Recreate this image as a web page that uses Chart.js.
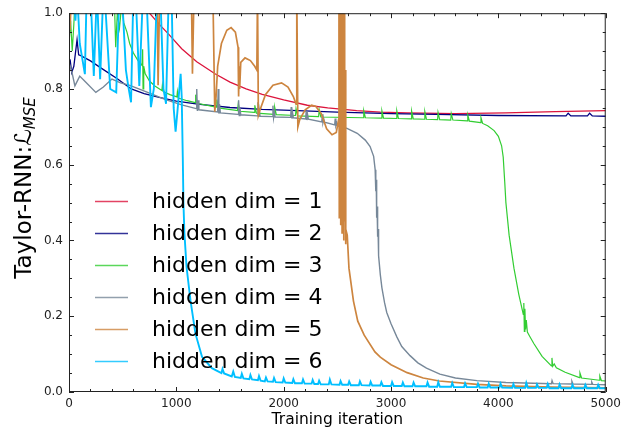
<!DOCTYPE html>
<html>
<head>
<meta charset="utf-8">
<script src="https://cdn.jsdelivr.net/npm/chart.js@4.4.1/dist/chart.umd.min.js"></script>
<style>
  html, body { margin: 0; padding: 0; background: #fff; }
</style>
</head>
<body>
<canvas id="chart" width="626" height="434"></canvas>
<script>
// legend labels and axis text
const seriesLabels = ["hidden dim = 1", "hidden dim = 2", "hidden dim = 3", "hidden dim = 4", "hidden dim = 5", "hidden dim = 6"];
const seriesColors = ["#dc143c", "#000080", "#32cd32", "#778899", "#cd853f", "#00bfff"];
const xTicks = [0, 1000, 2000, 3000, 4000, 5000];
const yTicks = [0.0, 0.2, 0.4, 0.6, 0.8, 1.0];

// [iteration, loss]
const dim1 = [[0,0.97],[30,1.05],[720,1.02],[750,1.0],[850,0.968],[930,0.944],[1050,0.906],[1190,0.872],[1360,0.84],[1500,0.818],[1650,0.80],[1800,0.786],[2000,0.771],[2220,0.757],[2410,0.75],[2680,0.743],[2900,0.739],[3150,0.737],[3600,0.735],[4070,0.737],[4530,0.74],[5000,0.743]];

const dim2 = [[10,0.878],[25,0.843],[45,0.86],[75,0.93],[90,0.89],[110,0.888],[200,0.874],[300,0.855],[450,0.827],[580,0.80],[700,0.788],[840,0.778],[1000,0.768],[1200,0.76],[1500,0.751],[1800,0.746],[2130,0.743],[2500,0.739],[3000,0.735],[3420,0.733],[4000,0.73],[4630,0.729],[4650,0.736],[4675,0.729],[4830,0.729],[4850,0.736],[4875,0.729],[5000,0.728]];

const dim3 = [[0,0.92],[15,0.98],[30,0.9],[45,0.97],[60,1.06],[420,1.06],[435,0.91],[450,1.0],[470,0.96],[490,1.02],[510,0.975],[540,0.95],[565,0.92],[600,0.895],[640,0.876],[680,0.862],[686,0.905],[690,0.80],[696,0.86],[710,0.84],[750,0.821],[800,0.808],[865,0.796],[870,0.81],[878,0.793],[940,0.785],[1005,0.779],[1010,0.793],[1018,0.776],[1100,0.769],[1175,0.764],[1180,0.785],[1195,0.762],[1370,0.752],[1377,0.772],[1392,0.750],[1570,0.743],[1577,0.762],[1592,0.741],[1725,0.738],[1731,0.757],[1746,0.736],[1910,0.733],[1916,0.752],[1931,0.732],[2110,0.73],[2115,0.748],[2130,0.729],[2325,0.727],[2331,0.745],[2346,0.726],[2740,0.724],[2746,0.742],[2761,0.724],[2910,0.723],[2915,0.742],[2930,0.723],[3050,0.722],[3054,0.742],[3069,0.722],[3188,0.721],[3192,0.741],[3207,0.721],[3311,0.72],[3315,0.74],[3330,0.72],[3434,0.719],[3438,0.738],[3453,0.719],[3556,0.718],[3561,0.735],[3576,0.718],[3710,0.716],[3715,0.731],[3730,0.715],[3834,0.711],[3838,0.724],[3853,0.709],[3900,0.703],[3960,0.69],[4000,0.675],[4030,0.65],[4045,0.62],[4060,0.55],[4070,0.50],[4100,0.414],[4145,0.327],[4190,0.258],[4232,0.205],[4237,0.235],[4242,0.16],[4247,0.22],[4253,0.165],[4260,0.19],[4270,0.158],[4290,0.148],[4330,0.128],[4407,0.094],[4494,0.069],[4499,0.09],[4506,0.068],[4520,0.074],[4540,0.064],[4622,0.052],[4755,0.038],[4760,0.05],[4775,0.037],[4940,0.031],[4945,0.042],[4960,0.03],[5000,0.029]];

const dim4 = [[0,0.87],[25,0.847],[55,0.808],[100,0.834],[150,0.82],[250,0.791],[320,0.805],[400,0.826],[480,0.816],[560,0.81],[650,0.80],[750,0.789],[900,0.772],[1050,0.758],[1185,0.748],[1190,0.80],[1196,0.742],[1202,0.77],[1210,0.745],[1385,0.739],[1390,0.80],[1396,0.735],[1402,0.76],[1410,0.737],[1575,0.733],[1580,0.77],[1586,0.73],[1592,0.75],[1600,0.732],[1755,0.729],[1760,0.765],[1766,0.726],[1772,0.745],[1780,0.728],[1895,0.727],[1900,0.756],[1906,0.724],[1914,0.738],[1920,0.726],[2065,0.725],[2070,0.752],[2076,0.722],[2084,0.735],[2090,0.724],[2205,0.721],[2210,0.742],[2216,0.718],[2224,0.73],[2230,0.72],[2355,0.713],[2360,0.733],[2366,0.711],[2374,0.72],[2380,0.712],[2475,0.705],[2480,0.722],[2486,0.703],[2494,0.71],[2500,0.703],[2590,0.696],[2685,0.683],[2760,0.665],[2805,0.648],[2838,0.622],[2852,0.587],[2858,0.53],[2862,0.56],[2866,0.46],[2870,0.49],[2875,0.41],[2879,0.43],[2884,0.36],[2900,0.31],[2915,0.275],[2940,0.235],[2960,0.21],[3000,0.18],[3055,0.145],[3100,0.12],[3177,0.096],[3250,0.077],[3330,0.063],[3455,0.047],[3600,0.037],[3800,0.03],[4070,0.025],[4495,0.022],[4500,0.03],[4510,0.022],[4680,0.021],[4685,0.028],[4695,0.021],[4865,0.02],[4870,0.026],[4880,0.02],[5000,0.019]];

const dim5 = [[0,1.06],[10,0.955],[22,1.06],[820,1.06],[830,0.81],[845,1.06],[1140,1.06],[1150,0.84],[1165,1.06],[1340,1.06],[1358,0.74],[1370,0.78],[1385,0.86],[1420,0.92],[1470,0.955],[1510,0.962],[1550,0.95],[1575,0.91],[1580,0.78],[1586,0.86],[1590,0.80],[1600,0.87],[1640,0.882],[1690,0.875],[1730,0.86],[1750,0.85],[1756,1.06],[1764,0.73],[1780,0.745],[1830,0.785],[1900,0.81],[1980,0.816],[2040,0.805],[2090,0.78],[2115,0.76],[2122,1.06],[2132,0.70],[2150,0.72],[2200,0.745],[2260,0.757],[2300,0.754],[2350,0.735],[2400,0.695],[2450,0.679],[2490,0.685],[2512,0.72],[2515,1.06],[2518,0.46],[2521,1.06],[2524,0.52],[2527,1.06],[2530,0.44],[2533,1.06],[2536,0.58],[2540,1.06],[2544,0.42],[2548,1.06],[2552,0.48],[2556,1.06],[2560,0.40],[2564,1.0],[2568,0.45],[2572,0.85],[2576,0.39],[2580,0.43],[2592,0.414],[2608,0.327],[2650,0.24],[2690,0.187],[2750,0.15],[2850,0.106],[2900,0.092],[3000,0.072],[3150,0.051],[3300,0.037],[3450,0.029],[3800,0.02],[4070,0.016],[4500,0.013],[5000,0.011]];

const dim6 = [[0,1.06],[40,1.06],[60,0.98],[75,1.06],[100,0.92],[148,0.839],[165,1.06],[200,1.06],[231,0.834],[260,1.06],[290,0.826],[320,1.06],[330,1.06],[384,0.80],[440,0.791],[470,1.06],[492,1.06],[530,0.85],[554,0.804],[578,0.765],[600,1.06],[620,1.06],[655,0.808],[690,1.06],[720,1.06],[763,0.752],[790,0.80],[820,1.06],[850,1.06],[880,0.80],[904,0.761],[930,1.06],[955,1.06],[975,0.75],[993,0.687],[1010,0.74],[1024,0.787],[1040,0.84],[1050,0.78],[1060,0.62],[1066,0.50],[1075,0.42],[1095,0.33],[1132,0.241],[1178,0.154],[1239,0.093],[1331,0.063],
  [1420,0.050],[1430,0.061],[1445,0.049],[1516,0.041],[1530,0.054],[1545,0.040],[1600,0.037],[1610,0.048],[1625,0.036],[1680,0.034],[1690,0.045],[1705,0.033],[1760,0.031],[1770,0.042],[1785,0.030],[1824,0.028],[1835,0.038],[1850,0.028],[1900,0.027],[1910,0.037],[1925,0.026],[1990,0.025],[2000,0.036],[2015,0.025],[2080,0.024],[2090,0.034],[2105,0.023],[2170,0.023],[2180,0.033],[2195,0.022],[2260,0.022],[2270,0.032],[2285,0.021],[2320,0.021],[2330,0.03],[2345,0.02],[2420,0.02],[2430,0.033],[2445,0.02],[2520,0.019],[2530,0.029],[2545,0.019],[2600,0.019],[2610,0.028],[2625,0.018],[2700,0.018],[2710,0.028],[2725,0.018],[2800,0.017],[2810,0.027],[2825,0.017],[2900,0.017],[2910,0.026],[2925,0.016],[3000,0.016],[3010,0.026],[3025,0.016],[3100,0.016],[3110,0.025],[3125,0.015],[3200,0.015],[3210,0.025],[3225,0.015],[3330,0.015],[3340,0.025],[3355,0.014],[3430,0.014],[3440,0.026],[3455,0.014],[3560,0.014],[3570,0.024],[3585,0.013],[3680,0.013],[3690,0.023],[3705,0.013],[3800,0.013],[3810,0.022],[3825,0.012],[3900,0.012],[3910,0.022],[3925,0.012],[4010,0.012],[4020,0.022],[4035,0.012],[4130,0.011],[4140,0.021],[4155,0.011],[4250,0.011],[4260,0.024],[4275,0.011],[4350,0.011],[4360,0.02],[4375,0.011],[4450,0.011],[4460,0.021],[4475,0.01],[4560,0.01],[4570,0.02],[4585,0.01],[4680,0.01],[4690,0.019],[4705,0.01],[4800,0.01],[4810,0.019],[4825,0.01],[4920,0.01],[4930,0.019],[4945,0.01],[5000,0.01]];

const allSeries = [dim1, dim2, dim3, dim4, dim5, dim6];
const lineWidths = [1.3, 1.3, 1.2, 1.4, 1.7, 1.9];

const FONT = "'DejaVu Sans', sans-serif";
const INK = "#222";

// matplotlib-style frame with inward major/minor ticks on all four sides
const frameTicks = {
  id: "frameTicks",
  afterDraw(chart) {
    const { ctx, chartArea: a, scales: { x, y } } = chart;
    ctx.save();
    ctx.strokeStyle = INK;
    ctx.lineWidth = 1;
    ctx.strokeRect(a.left + 0.5, a.top + 0.5, a.right - a.left - 1, a.bottom - a.top - 1);
    ctx.beginPath();
    for (let v = 0; v <= 5000; v += 200) {
      const px = Math.round(x.getPixelForValue(v)) + 0.5;
      const len = v % 1000 === 0 ? 5 : 3;
      ctx.moveTo(px, a.bottom); ctx.lineTo(px, a.bottom - len);
      ctx.moveTo(px, a.top); ctx.lineTo(px, a.top + len);
    }
    for (let i = 0; i <= 20; i++) {
      const py = Math.round(y.getPixelForValue(i * 0.05)) + 0.5;
      const len = i % 4 === 0 ? 5 : 3;
      ctx.moveTo(a.left, py); ctx.lineTo(a.left + len, py);
      ctx.moveTo(a.right, py); ctx.lineTo(a.right - len, py);
    }
    ctx.stroke();
    ctx.restore();
  }
};

// legend drawn inside the axes, left side
const insideLegend = {
  id: "insideLegend",
  afterDatasetsDraw(chart) {
    const ctx = chart.ctx;
    ctx.save();
    ctx.font = "22px " + FONT;
    ctx.textBaseline = "middle";
    ctx.fillStyle = "#000";
    chart.data.datasets.forEach((ds, i) => {
      const yy = 201.5 + i * 32;
      ctx.strokeStyle = ds.borderColor;
      ctx.globalAlpha = 0.8;
      ctx.lineWidth = 1.6;
      ctx.beginPath();
      ctx.moveTo(95, yy); ctx.lineTo(128, yy);
      ctx.stroke();
      ctx.globalAlpha = 1;
      ctx.fillText(ds.label, 152, yy + 1);
    });
    ctx.restore();
  }
};

// axis titles (y title has a math subscript)
const axisTitles = {
  id: "axisTitles",
  afterDraw(chart) {
    const { ctx, chartArea: a } = chart;
    ctx.save();
    ctx.fillStyle = "#000";
    ctx.font = "15.5px " + FONT;
    ctx.textAlign = "center";
    ctx.textBaseline = "middle";
    ctx.fillText("Training iteration", (a.left + a.right) / 2, 420);

    ctx.translate(25, 188);
    ctx.rotate(-Math.PI / 2);
    ctx.textAlign = "left";
    const mainFont = "23px " + FONT;
    const calFont = "italic 23px " + FONT;
    const subFont = "italic 15px " + FONT;
    const parts = [["Taylor-RNN:", mainFont, 0], ["\u2112", calFont, 0], ["MSE", subFont, 6]];
    let total = 0;
    parts.forEach(p => { ctx.font = p[1]; total += ctx.measureText(p[0]).width; });
    let cx = -total / 2;
    parts.forEach(p => {
      ctx.font = p[1];
      ctx.fillText(p[0], cx, p[2]);
      cx += ctx.measureText(p[0]).width;
    });
    ctx.restore();
  }
};

new Chart(document.getElementById("chart"), {
  type: "line",
  data: {
    datasets: allSeries.map((pts, i) => ({
      label: seriesLabels[i],
      data: pts,
      borderColor: seriesColors[i],
      backgroundColor: seriesColors[i],
      borderWidth: lineWidths[i],
      pointRadius: 0,
      tension: 0,
      fill: false,
      order: allSeries.length - i
    }))
  },
  options: {
    responsive: false,
    animation: false,
    layout: { padding: { left: 0, right: 15, top: 8, bottom: 0 } },
    plugins: { legend: { display: false }, tooltip: { enabled: false } },
    scales: {
      x: {
        type: "linear",
        min: 0, max: 5000,
        afterFit: s => { s.height = 42; },
        afterBuildTicks: s => { s.ticks = xTicks.map(v => ({ value: v })); },
        grid: { display: false, drawTicks: false },
        border: { display: false },
        ticks: {
          color: INK, padding: 5, maxRotation: 0, autoSkip: false,
          font: { family: FONT, size: 12 },
          callback: v => String(v)
        }
      },
      y: {
        type: "linear",
        min: 0, max: 1.0,
        afterFit: s => { s.width = 69; },
        afterBuildTicks: s => { s.ticks = yTicks.map(v => ({ value: v })); },
        grid: { display: false, drawTicks: false },
        border: { display: false },
        ticks: {
          color: INK, padding: 6,
          font: { family: FONT, size: 12 },
          callback: v => Number(v).toFixed(1)
        }
      }
    }
  },
  plugins: [frameTicks, insideLegend, axisTitles]
});
</script>
</body>
</html>
